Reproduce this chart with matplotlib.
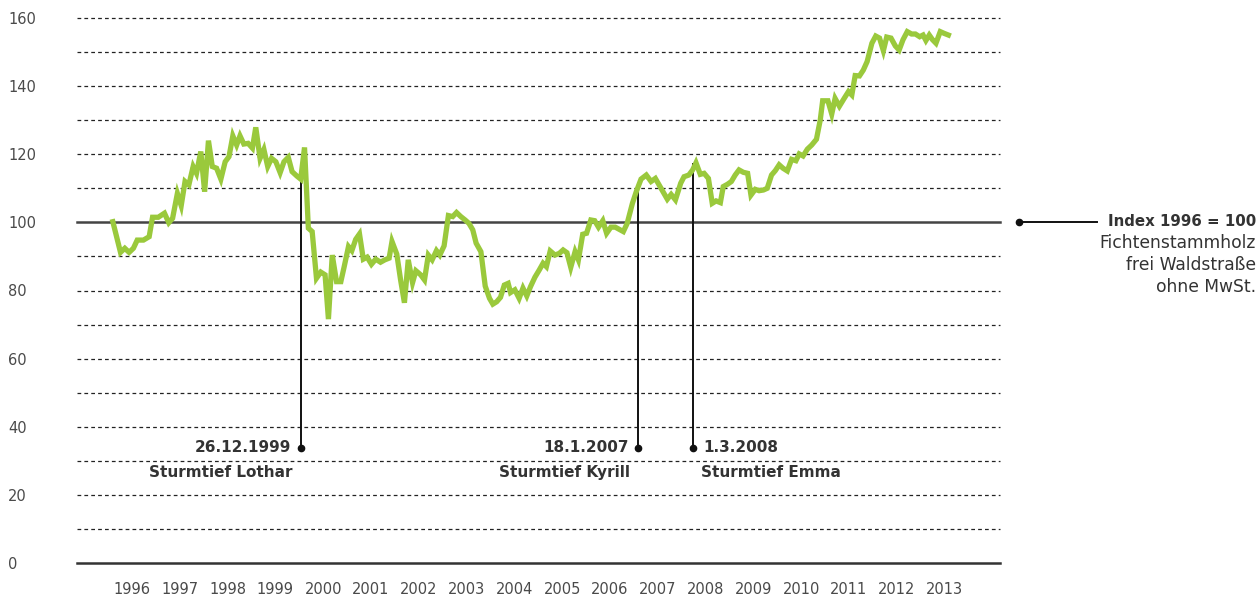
import matplotlib.pyplot as plt
from matplotlib.lines import Line2D

# decimal year and index value (1996 = 100)
t = [1996.06, 1996.22, 1996.31, 1996.40, 1996.49, 1996.57, 1996.70, 1996.82, 1996.89,
     1997.01, 1997.14, 1997.23, 1997.31, 1997.41, 1997.49, 1997.57, 1997.65, 1997.74,
     1997.81, 1997.90, 1997.98, 1998.06, 1998.14, 1998.23, 1998.32, 1998.41, 1998.49,
     1998.57, 1998.65, 1998.72, 1998.80, 1998.89, 1998.98, 1999.05, 1999.14, 1999.22,
     1999.30, 1999.38, 1999.47, 1999.56, 1999.64, 1999.73, 1999.81, 1999.91, 1999.99,
     2000.07, 2000.15, 2000.23, 2000.32, 2000.41, 2000.50, 2000.57, 2000.65, 2000.74,
     2000.83, 2000.90, 2000.99, 2001.06, 2001.14, 2001.22, 2001.30, 2001.38, 2001.47,
     2001.56, 2001.66, 2001.75, 2001.84, 2001.90, 2002.00, 2002.08, 2002.16, 2002.24,
     2002.33, 2002.40, 2002.50, 2002.58, 2002.66, 2002.74, 2002.83, 2002.90, 2002.99,
     2003.08, 2003.17, 2003.25, 2003.34, 2003.43, 2003.51, 2003.59, 2003.66, 2003.76,
     2003.85, 2003.94, 2004.01, 2004.09, 2004.17, 2004.25, 2004.33, 2004.38, 2004.47,
     2004.56, 2004.64, 2004.72, 2004.80, 2004.89, 2004.98, 2005.06, 2005.13, 2005.21,
     2005.31, 2005.40, 2005.48, 2005.56, 2005.64, 2005.73, 2005.80, 2005.89, 2005.97,
     2006.06, 2006.14, 2006.22, 2006.31, 2006.39, 2006.48, 2006.57, 2006.65, 2006.74,
     2006.82, 2006.93, 2007.01, 2007.11, 2007.22, 2007.32, 2007.41, 2007.53, 2007.66,
     2007.74, 2007.83, 2007.94, 2008.01, 2008.11, 2008.19, 2008.26, 2008.35, 2008.43,
     2008.52, 2008.60, 2008.68, 2008.77, 2008.83, 2008.92, 2009.00, 2009.08, 2009.16,
     2009.25, 2009.34, 2009.41, 2009.50, 2009.58, 2009.67, 2009.75, 2009.84, 2009.92,
     2010.00, 2010.08, 2010.17, 2010.26, 2010.35, 2010.42, 2010.50, 2010.59, 2010.68,
     2010.78, 2010.86, 2010.91, 2011.02, 2011.10, 2011.17, 2011.26, 2011.36, 2011.45,
     2011.52, 2011.59, 2011.68, 2011.76, 2011.84, 2011.94, 2012.02, 2012.10, 2012.18,
     2012.25, 2012.34, 2012.43, 2012.51, 2012.59, 2012.68, 2012.77, 2012.85, 2012.94,
     2013.01, 2013.07, 2013.14, 2013.21, 2013.28, 2013.37, 2013.45, 2013.54]
index = [100.2, 91.2, 92.4, 91.2, 92.4, 94.8, 94.8, 95.8, 101.5,
         101.5, 102.7, 99.9, 101.2, 108.5, 104.9, 112.0, 111.0, 116.4,
         114.4, 120.8, 109.0, 124.0, 116.4, 115.9, 112.7, 117.8, 119.3,
         125.4, 122.7, 125.4, 123.0, 123.2, 121.8, 127.9, 118.8, 121.4,
         116.4, 118.8, 117.8, 114.6, 117.8, 119.1, 114.9, 113.6, 112.7,
         122.0, 98.3, 97.3, 83.6, 85.4, 84.6, 71.6, 90.4, 82.6,
         82.6, 87.0, 92.9, 91.7, 95.0, 96.6, 89.2, 89.8, 87.7,
         89.2, 88.3, 89.0, 89.5, 94.4, 90.7, 83.1, 76.4, 89.0,
         82.3, 85.8, 84.6, 83.1, 90.4, 89.0, 91.7, 90.4, 93.1,
         102.0, 101.7, 102.9, 101.7, 100.7, 99.7, 97.8, 93.9, 91.4,
         81.3, 77.7, 76.0, 76.7, 78.0, 81.6, 82.1, 79.4, 80.2,
         77.7, 80.7, 78.4, 81.2, 83.9, 86.0, 88.0, 87.0, 91.6,
         90.4, 90.9, 91.9, 91.1, 86.8, 91.4, 89.0, 96.5, 96.8,
         100.7, 100.5, 98.6, 100.5, 96.8, 98.6, 98.6, 98.0, 97.3,
         99.7, 105.6, 109.0, 112.7, 113.9, 112.0, 112.9, 110.0, 106.8,
         108.2, 106.6, 111.5, 113.4, 113.9, 115.4, 117.5, 114.1, 114.4,
         112.9, 105.6, 106.3, 105.8, 110.5, 111.2, 112.0, 113.9, 115.4,
         114.7, 114.4, 108.0, 109.7, 109.3, 109.5, 110.0, 113.9, 115.2,
         116.9, 115.9, 115.1, 118.5, 118.1, 120.1, 119.5, 121.5, 122.7,
         124.4, 130.1, 135.7, 135.7, 131.8, 136.4, 134.1, 136.4, 138.4,
         137.4, 143.1, 143.0, 144.7, 147.2, 152.6, 154.7, 154.1, 150.4,
         154.4, 154.1, 151.8, 150.6, 153.6, 156.0, 155.3, 155.3, 154.5,
         155.0, 153.4, 155.0, 153.6, 152.6, 156.0, 155.5, 155.0]

years = list(range(1996, 2014))
yticks = [0, 20, 40, 60, 80, 100, 120, 140, 160]

# storm events: position, value where the line meets the curve, labels
storm_t = [1999.99, 2007.05, 2008.20]
storm_val = [112.8, 109.8, 117.2]
storm_date = ["26.12.1999", "18.1.2007", "1.3.2008"]
storm_name = ["Sturmtief Lothar", "Sturmtief Kyrill", "Sturmtief Emma"]
storm_side = ["left", "left", "right"]

legend_lines = ["Index 1996 = 100", "Fichtenstammholz", "frei Waldstraße", "ohne MwSt."]

GREEN = "#9ac93c"
TXT = "#333333"
FONT = "DejaVu Sans"

fig = plt.figure(figsize=(12.58, 5.98), dpi=100)
W, H = 1258, 598
ax = fig.add_axes([77 / W, 35 / H, 923 / W, 545 / H])
ax.set_xlim(1995.31, 2014.62)
ax.set_ylim(0, 160)
for s in ax.spines.values():
    s.set_visible(False)

for y in range(10, 161, 10):
    if y == 100:
        continue
    ax.axhline(y, color="#222222", lw=0.9, ls=(0, (3, 2.5)), zorder=1, clip_on=False)
ax.axhline(100, color="#444444", lw=1.8, zorder=1, clip_on=False)
ax.axhline(0, color="#333333", lw=1.8, zorder=1, clip_on=False)

ax.plot(t, index, color=GREEN, lw=3.8, solid_joinstyle="miter", zorder=3)

dot_y = 33.8
for st, sv, sd, sn, side in zip(storm_t, storm_val, storm_date, storm_name, storm_side):
    ax.plot([st, st], [dot_y, sv], color="#111111", lw=1.4, zorder=2)
    ax.plot([st], [dot_y], "o", color="#111111", ms=4.5, zorder=2)
    sign = -1 if side == "left" else 1
    ha = "right" if side == "left" else "left"
    ax.annotate(sd, (st, dot_y), xytext=(sign * 7, 0), textcoords="offset points",
                ha=ha, va="center", fontsize=11, fontweight="bold",
                color=TXT, family=FONT)
    ax.annotate(sn, (st, 26.7), xytext=(sign * 6, 0), textcoords="offset points",
                ha=ha, va="center", fontsize=11, fontweight="bold",
                color=TXT, family=FONT)

ax.set_yticks(yticks)
ax.set_yticklabels([str(v) for v in yticks], ha="left", family=FONT,
                   fontsize=10.5, color="#4a4a4a")
ax.set_xticks([y + 0.46 for y in years])
ax.set_xticklabels([str(y) for y in years], family=FONT, fontsize=10.5, color="#4a4a4a")
ax.tick_params(axis="y", length=0, pad=49.7)
ax.tick_params(axis="x", length=0, pad=14)

# legend note on the right
y100 = 1 - 222 / H
fig.add_artist(Line2D([1019 / W, 1097 / W], [y100, y100], color="#111111",
                      lw=1.4, transform=fig.transFigure))
fig.add_artist(Line2D([1019 / W], [y100], marker="o", ms=4.5, color="#111111",
                      transform=fig.transFigure))
for i, line in enumerate(legend_lines):
    fig.text(1256 / W, 1 - (222 + i * 21.5) / H, line, ha="right", va="center",
             fontsize=10.8 if i == 0 else 12.3, color=TXT, family=FONT,
             fontweight="bold" if i == 0 else "normal")

fig.savefig("out.png", dpi=100)
